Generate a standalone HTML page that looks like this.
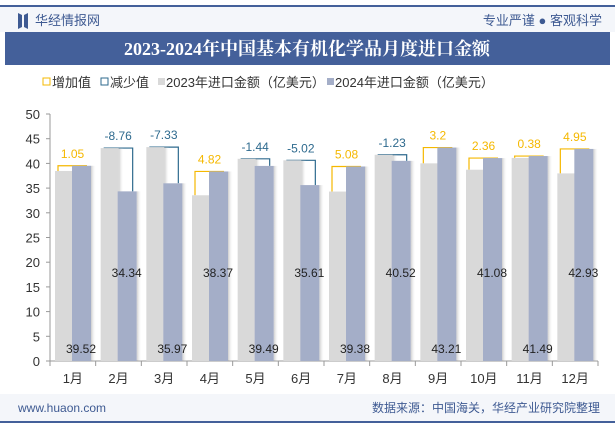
<!DOCTYPE html>
<html><head><meta charset="utf-8">
<style>
body{margin:0;width:615px;height:427px;overflow:hidden;background:#fff;font-family:"Liberation Sans","Noto Sans CJK SC",sans-serif;}
svg text{font-family:"Liberation Sans","Noto Sans CJK SC",sans-serif;}
</style></head><body>
<svg id="c" width="615" height="427" xmlns="http://www.w3.org/2000/svg">
<defs>
<linearGradient id="sh" x1="0" x2="1"><stop offset="0" stop-color="#999" stop-opacity="0.5"/><stop offset="1" stop-color="#fff" stop-opacity="0"/></linearGradient>
</defs>
<rect x="0" y="5" width="615" height="2" fill="#44609a"/>
<rect x="0" y="7" width="615" height="25" fill="#f4f6fa"/>
<path d="M18 13 L22 15 L22 27 L18 29 Z M28 13 L24 15 L24 27 L28 29 Z" fill="#3e5a92"/>
<text x="35" y="25" font-size="13" fill="#3e5a92">华经情报网</text>
<text x="602" y="25" font-size="13" fill="#3e5a92" text-anchor="end">专业严谨 ● 客观科学</text>
<rect x="5" y="32" width="605" height="33" fill="#44609a"/>
<text x="307" y="55" font-size="18" font-weight="bold" fill="#fff" text-anchor="middle" style="font-family:'Liberation Serif','Noto Serif CJK SC',serif">2023-2024年中国基本有机化学品月度进口金额</text>
<g font-size="13" fill="#333">
<rect x="43" y="78" width="7" height="7" fill="none" stroke="#f5b800"/>
<text x="52" y="87">增加值</text>
<rect x="101" y="78" width="7" height="7" fill="none" stroke="#2e6a8e"/>
<text x="110" y="87">减少值</text>
<rect x="158" y="78" width="7" height="7" fill="#d9d9d9"/>
<text x="166" y="87">2023年进口金额（亿美元）</text>
<rect x="327" y="78" width="7" height="7" fill="#a4aec8"/>
<text x="335" y="87">2024年进口金额（亿美元）</text>
</g>
<g id="plot"></g>
<rect x="0" y="394" width="615" height="27" fill="#f4f6fa"/>
<rect x="0" y="421" width="615" height="2" fill="#44609a"/>
<text x="18" y="412" font-size="12" fill="#3e5a92">www.huaon.com</text>
<text x="600" y="412" font-size="12" fill="#3e5a92" text-anchor="end">数据来源：中国海关，华经产业研究院整理</text>
</svg>
<script>
const months=["1月","2月","3月","4月","5月","6月","7月","8月","9月","10月","11月","12月"];
const v2024=[39.52,34.34,35.97,38.37,39.49,35.61,39.38,40.52,43.21,41.08,41.49,42.93];
const diffs=[1.05,-8.76,-7.33,4.82,-1.44,-5.02,5.08,-1.23,3.2,2.36,0.38,4.95];
const yTicks=[0,5,10,15,20,25,30,35,40,45,50];
const NS="http://www.w3.org/2000/svg";
const g=document.getElementById('plot');
const X0=50,X1=598,Y0=361,Y1=114;
const cw=(X1-X0)/months.length;
const y=v=>Y0-(v/50)*(Y0-Y1);
function mk(t,a,p){const e=document.createElementNS(NS,t);for(const k in a)e.setAttribute(k,a[k]);(p||g).appendChild(e);return e;}
let ax=mk('line',{x1:X0,y1:Y1,x2:X0,y2:Y0,stroke:'#999'});


let bx=mk('line',{x1:X0,y1:Y0,x2:X1,y2:Y0,stroke:'#999'});


yTicks.forEach(t=>{
 mk('line',{x1:X0-4,x2:X0,y1:y(t),y2:y(t),stroke:'#999'});
 const tx=mk('text',{x:X0-10,y:y(t)+5,'font-size':13,fill:'#333','text-anchor':'end'});
 tx.textContent=t;
 
 
});
months.forEach((m,i)=>{
 const cx=X0+i*cw;
 mk('line',{x1:cx+cw,x2:cx+cw,y1:Y0,y2:Y0+5,stroke:'#999'});
 if(i===0)mk('line',{x1:cx,x2:cx,y1:Y0,y2:Y0+5,stroke:'#999'});
 const tx=mk('text',{x:cx+cw/2,y:Y0+22,'font-size':13,fill:'#333','text-anchor':'middle'});
 tx.textContent=m;
 
 
 const v24=v2024[i],d=diffs[i],v23=+(v24-d).toFixed(2);
 const gl=cx+5,bl=cx+22,top=y(Math.max(v23,v24));
 const col=d>=0?'#f5b800':'#2e6a8e';
 const br=mk('polyline',{points:`${gl+3},${y(v23)} ${gl+3},${top} ${bl+15},${top} ${bl+15},${y(v24)}`,fill:'none',stroke:col,'stroke-width':1.2});
 
 
 mk('rect',{x:gl+18,y:y(v23),width:5,height:Y0-y(v23),fill:'url(#sh)'});
 const r1=mk('rect',{x:gl,y:y(v23),width:18,height:Y0-y(v23),fill:'#d9d9d9'});
 
 
 mk('rect',{x:bl+19,y:y(v24),width:5,height:Y0-y(v24),fill:'url(#sh)'});
 const r2=mk('rect',{x:bl,y:y(v24),width:19,height:Y0-y(v24),fill:'#a4aec8'});
 
 
 const dl=mk('text',{x:(gl+bl+18)/2,y:top-8,'font-size':12,fill:col,'text-anchor':'middle'});
 dl.textContent=d;
 
 
 const vl=mk('text',{x:bl+9,y:i%2===0?Y0-8:y(18)+5,'font-size':12,fill:'#222','text-anchor':'middle'});
 vl.textContent=v24;
 
 
});
</script>
</body></html>
